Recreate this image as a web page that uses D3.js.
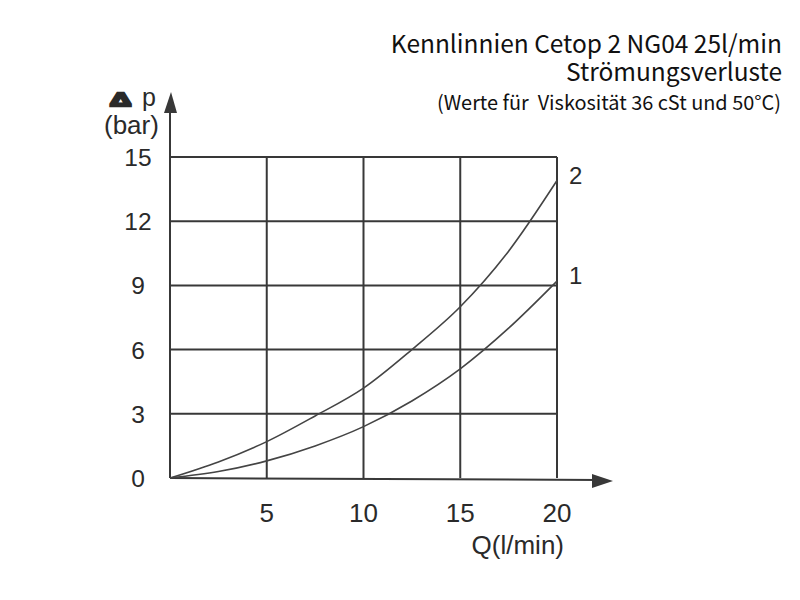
<!DOCTYPE html>
<html>
<head>
<meta charset="utf-8">
<script src="https://d3js.org/d3.v7.min.js"></script>
<style>
  body { margin: 0; background: #fff; }
</style>
</head>
<body>
<script>
// values (Q in l/min, dp in bar)
const flow = [0, 2.5, 5, 7.5, 10, 12.5, 15, 17.5, 20];
const curve1 = [0, 0.3, 0.8, 1.5, 2.4, 3.6, 5.1, 7.0, 9.2];
const curve2 = [0, 0.75, 1.7, 2.9, 4.2, 6.0, 8.0, 10.6, 13.9];
const curveNames = ["1", "2"];
const xTicks = [5, 10, 15, 20];
const yTicks = [0, 3, 6, 9, 12, 15];
const titleLines = ["Kennlinnien Cetop 2 NG04 25l/min", "Strömungsverluste"];
const subtitle = "(Werte für  Viskosität 36 cSt und 50°C)";

const width = 800, height = 600;
const ink = "#383838";
const titleFont = "Noto Sans CJK SC, Noto Sans, sans-serif";
const tickFont = "Liberation Sans, Arial, sans-serif";

const svg = d3.select("body").append("svg")
  .attr("width", width)
  .attr("height", height);

const x = d3.scaleLinear().domain([0, 20]).range([170, 557]);
const y = d3.scaleLinear().domain([0, 15]).range([478, 157]);

// title block
svg.append("text")
  .attr("x", 782).attr("y", 53)
  .attr("text-anchor", "end")
  .attr("font-family", titleFont)
  .attr("font-size", 24.5)
  .attr("fill", "#111")
  .text(titleLines[0]);
svg.append("text")
  .attr("x", 782).attr("y", 81)
  .attr("text-anchor", "end")
  .attr("font-family", titleFont)
  .attr("font-size", 24.5)
  .attr("fill", "#111")
  .text(titleLines[1]);
svg.append("text")
  .attr("x", 781).attr("y", 110)
  .attr("text-anchor", "end")
  .attr("font-family", titleFont)
  .attr("font-size", 19.9)
  .attr("fill", "#111")
  .style("white-space", "pre")
  .text(subtitle);

// grid
const grid = svg.append("g").attr("stroke", ink).attr("stroke-width", 2);
grid.selectAll("line.h")
  .data(yTicks.filter(d => d > 0))
  .join("line")
  .attr("class", "h")
  .attr("x1", x(0)).attr("x2", x(20))
  .attr("y1", d => y(d)).attr("y2", d => y(d));
grid.selectAll("line.v")
  .data(xTicks)
  .join("line")
  .attr("class", "v")
  .attr("x1", d => x(d)).attr("x2", d => x(d))
  .attr("y1", y(0)).attr("y2", y(15));

// axes with arrows
svg.append("line")
  .attr("x1", x(0)).attr("x2", x(0))
  .attr("y1", y(0)).attr("y2", 105)
  .attr("stroke", ink).attr("stroke-width", 2);
svg.append("path")
  .attr("d", `M${x(0) + 1},92 L${x(0) - 6},113 L${x(0) + 7},113 Z`)
  .attr("fill", ink);
svg.append("line")
  .attr("x1", x(0)).attr("x2", 600)
  .attr("y1", y(0)).attr("y2", y(0) + 2)
  .attr("stroke", ink).attr("stroke-width", 2);
svg.append("path")
  .attr("d", `M613,${y(0) + 3} L592,${y(0) - 4} L592,${y(0) + 10} Z`)
  .attr("fill", ink);

// tick labels
svg.selectAll("text.yt")
  .data(yTicks)
  .join("text")
  .attr("class", "yt")
  .attr("x", 138)
  .attr("y", d => y(d) + 9)
  .attr("text-anchor", "middle")
  .attr("font-family", tickFont)
  .attr("font-size", 24.5)
  .attr("fill", "#2a2a2a")
  .text(d => d);
svg.selectAll("text.xt")
  .data(xTicks)
  .join("text")
  .attr("class", "xt")
  .attr("x", d => x(d))
  .attr("y", 522)
  .attr("text-anchor", "middle")
  .attr("font-family", tickFont)
  .attr("font-size", 26)
  .attr("fill", "#2a2a2a")
  .text(d => d);

// axis titles (delta drawn wide and filled like the scan)
svg.append("text")
  .attr("transform", "translate(110,106) scale(1.55,1)")
  .attr("font-family", tickFont)
  .attr("font-size", 19)
  .attr("font-weight", "bold")
  .attr("fill", "#2a2a2a")
  .attr("stroke", "#2a2a2a").attr("stroke-width", 2.5)
  .text("Δ");
svg.append("text")
  .attr("x", 142).attr("y", 106)
  .attr("font-family", tickFont)
  .attr("font-size", 25)
  .attr("fill", "#2a2a2a")
  .text("p");
svg.append("text")
  .attr("x", 104).attr("y", 134)
  .attr("font-family", tickFont)
  .attr("font-size", 26)
  .attr("fill", "#2a2a2a")
  .text("(bar)");
svg.append("text")
  .attr("x", 564).attr("y", 554)
  .attr("text-anchor", "end")
  .attr("font-family", tickFont)
  .attr("font-size", 26)
  .attr("fill", "#2a2a2a")
  .text("Q(l/min)");

// curves
const line = d3.line()
  .x((d, i) => x(flow[i]))
  .y(d => y(d))
  .curve(d3.curveMonotoneX);
[curve1, curve2].forEach((c, k) => {
  svg.append("path")
    .datum(c)
    .attr("fill", "none")
    .attr("stroke", "#444")
    .attr("stroke-width", 1.6)
    .attr("d", line);
  svg.append("text")
    .attr("x", 569)
    .attr("y", y(c[c.length - 1]) + 3)
    .attr("font-family", tickFont)
    .attr("font-size", 24)
    .attr("fill", "#2a2a2a")
    .text(curveNames[k]);
});
</script>
</body>
</html>
